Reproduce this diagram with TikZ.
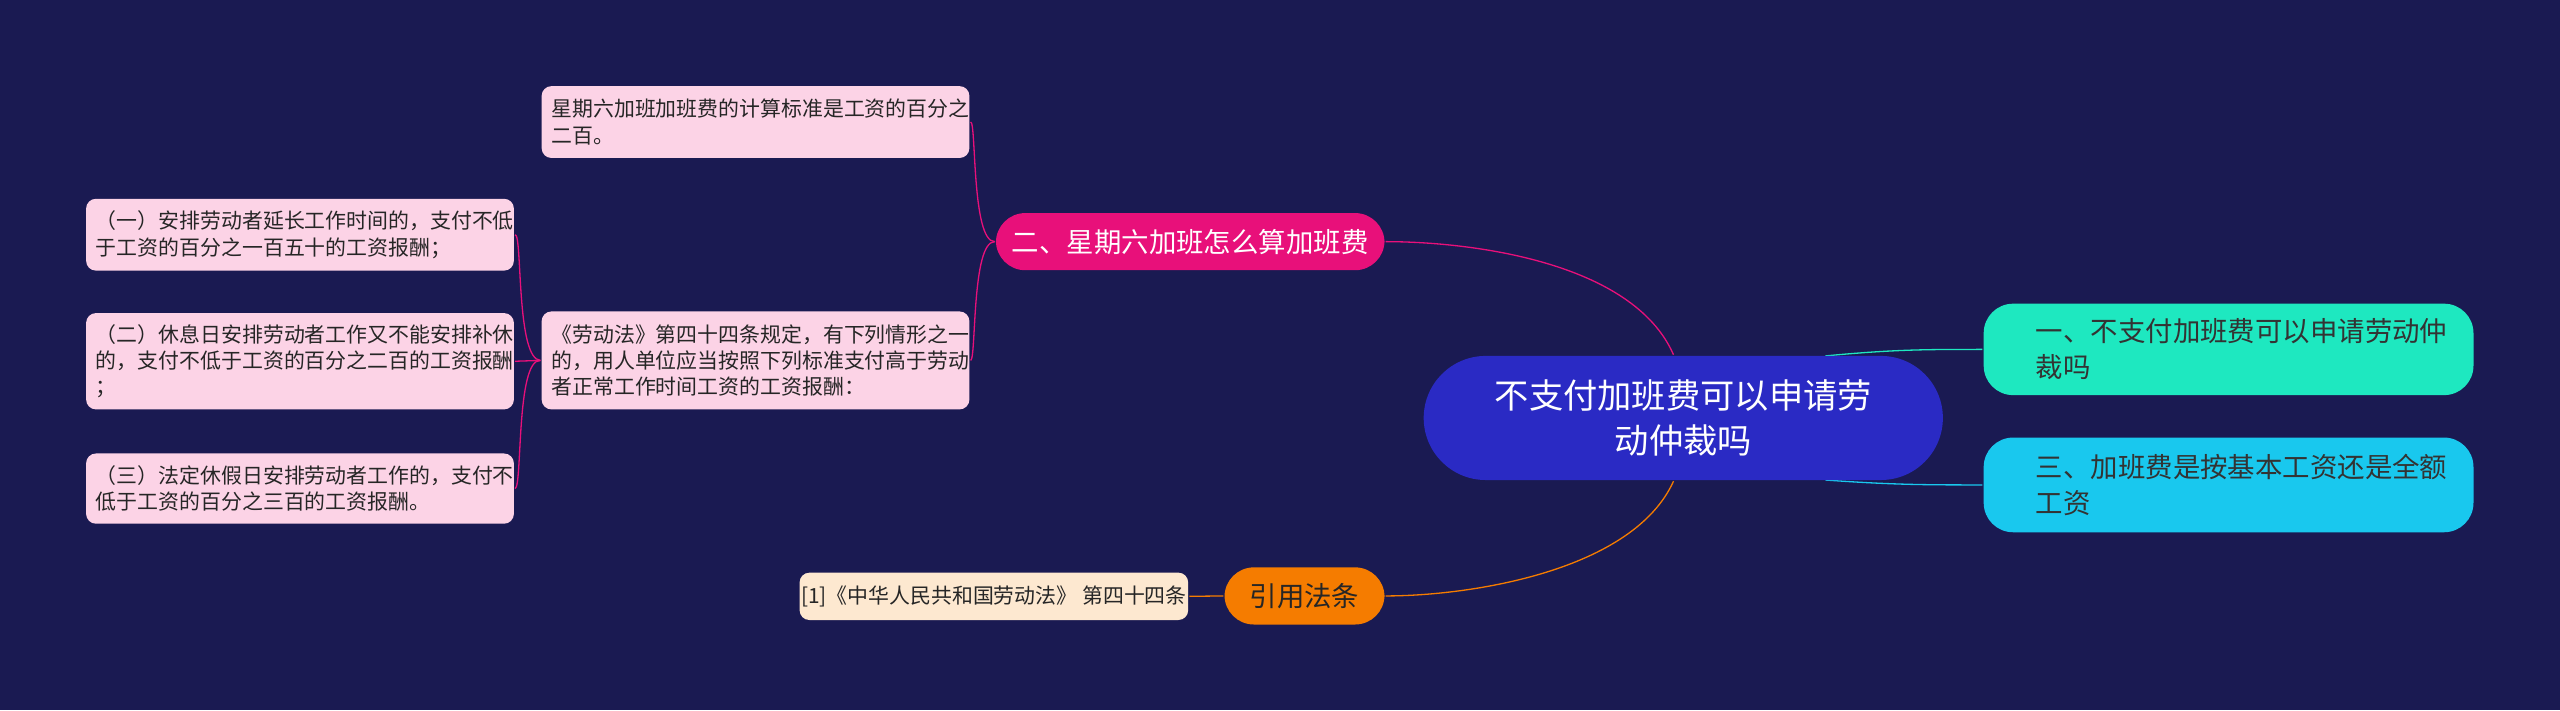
\documentclass[tikz,border=0pt]{standalone}
\usepackage{fontspec}
\setmainfont{Noto Sans CJK SC}
\usetikzlibrary{backgrounds}
\definecolor{bgc}{HTML}{1A1A52}
\definecolor{centc}{HTML}{2A2AC4}
\definecolor{tealc}{HTML}{1EE8C0}
\definecolor{cyanc}{HTML}{19C8EE}
\definecolor{magc}{HTML}{E8107A}
\definecolor{orc}{HTML}{F57C00}
\definecolor{pinkc}{HTML}{FCD3E6}
\definecolor{beigec}{HTML}{FDE8D0}
\tikzset{every picture/.style={line width=0.75pt}}
\tikzset{
  leaf/.style={fill=pinkc,rounded corners=3,anchor=north west,inner sep=0pt,align=left,text=black!85,font=\fontsize{6.4}{8}\selectfont},
  topic/.style={rounded corners=9,inner sep=0pt,align=left,font=\fontsize{8.4}{11}\selectfont},
}
\begin{document}
\begin{tikzpicture}[x=0.5pt,y=0.5pt,yscale=-1,xscale=1]
\useasboundingbox (0,0) rectangle (1568,435);
\begin{scope}[on background layer]
\fill[bgc] (0,0) rectangle (1568,435);
\end{scope}

% Central topic
\node (root) [fill=centc,rounded corners=19,minimum width=159pt,minimum height=38pt,align=center,text=white,font=\fontsize{10.5}{14}\selectfont] at (1031,256) {不支付加班费可以申请劳\\动仲裁吗};

% Right topics
\node (r1) [topic,fill=tealc,minimum width=150pt,minimum height=28pt,text=black!80] at (1365,214) {\hspace*{8pt}一、不支付加班费可以申请劳动仲\\\hspace*{8pt}裁吗\hspace*{95pt}};
\node (r3) [topic,fill=cyanc,minimum width=150pt,minimum height=29pt,text=black!80] at (1365,297) {\hspace*{8pt}三、加班费是按基本工资还是全额\\\hspace*{8pt}工资\hspace*{105pt}};

% Left topics
\node (sat) [topic,fill=magc,minimum width=119pt,minimum height=17.5pt,text=white,align=center] at (729,148) {二、星期六加班怎么算加班费};
\node (cite) [topic,fill=orc,minimum width=49pt,minimum height=17.5pt,text=black!85,align=center] at (799,365) {引用法条};

% Leaves
\node (la) [leaf,minimum width=127pt,minimum height=22pt] at (331,52) {\hspace*{3pt}星期六加班加班费的计算标准是工资的百分之\\\hspace*{3pt}二百。};
\node (lb) [leaf,minimum width=127pt,minimum height=30pt] at (331,190) {\hspace*{3pt}《劳动法》第四十四条规定，有下列情形之一\\\hspace*{3pt}的，用人单位应当按照下列标准支付高于劳动\\\hspace*{3pt}者正常工作时间工资的工资报酬：};
\node (s1) [leaf,minimum width=127.5pt,minimum height=22pt] at (52,121) {\hspace*{3pt}（一）安排劳动者延长工作时间的，支付不低\\\hspace*{3pt}于工资的百分之一百五十的工资报酬；};
\node (s2) [leaf,minimum width=127.5pt,minimum height=29.5pt] at (52,191) {\hspace*{3pt}（二）休息日安排劳动者工作又不能安排补休\\\hspace*{3pt}的，支付不低于工资的百分之二百的工资报酬\\\hspace*{3pt}；};
\node (s3) [leaf,minimum width=127.5pt,minimum height=21.5pt] at (52,277) {\hspace*{3pt}（三）法定休假日安排劳动者工作的，支付不\\\hspace*{3pt}低于工资的百分之三百的工资报酬。};
\node (law) [leaf,fill=beigec,minimum width=119pt,minimum height=14.5pt,align=center] at (489,350) {[1]《中华人民共和国劳动法》 第四十四条};

% Connectors
\begin{scope}[on background layer]
\draw[magc] (root.north) ++(-6,0) .. controls (1000,160) and (900,148) .. (sat.east);
\draw[orc] (root.south) ++(-6,0) .. controls (1000,350) and (900,365) .. (cite.east);
\draw[tealc] (1118,218) .. controls (1160,214) and (1180,214) .. (r1.west);
\draw[cyanc] (1118,294) .. controls (1160,297) and (1180,297) .. (r3.west);
\draw[magc] (sat.west) .. controls (595,148) and (598,74) .. (la.east);
\draw[magc] (sat.west) .. controls (595,148) and (598,220) .. (lb.east);
\draw[magc] (lb.west) .. controls (316,220) and (320,143) .. (s1.east);
\draw[magc] (lb.west) -- (s2.east);
\draw[magc] (lb.west) .. controls (316,220) and (320,298) .. (s3.east);
\draw[orc] (cite.west) -- (law.east);
\end{scope}
\end{tikzpicture}
\end{document}
